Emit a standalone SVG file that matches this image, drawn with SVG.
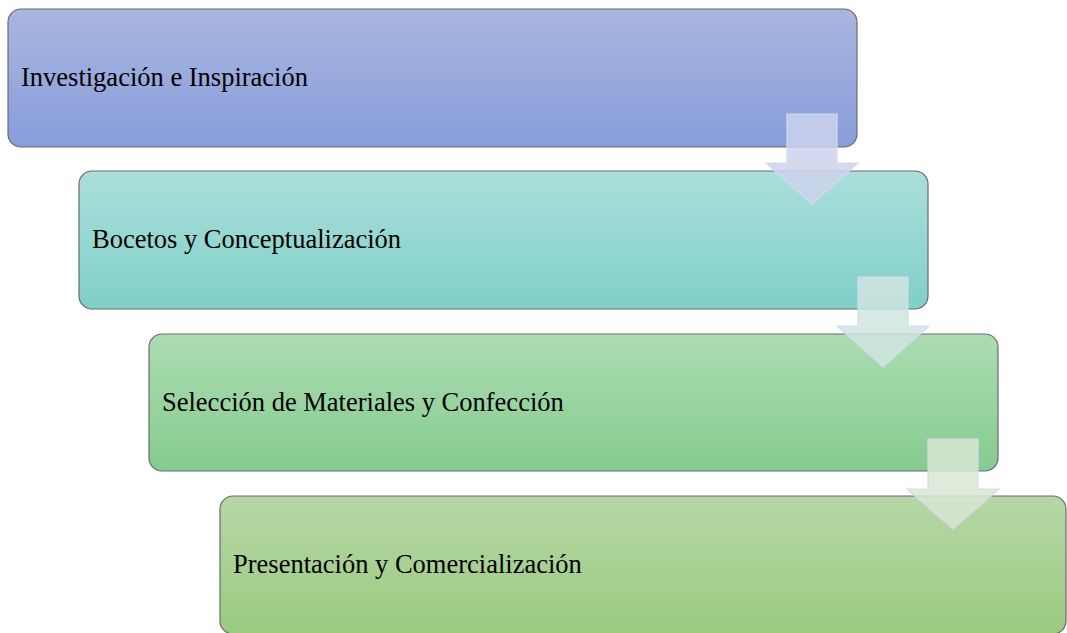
<svg xmlns="http://www.w3.org/2000/svg" width="1067" height="633" viewBox="0 0 1067 633">
<style>
.box{stroke:#6b6b6b;stroke-width:1.2}
.lbl{font-family:"Liberation Serif","Times New Roman",serif;font-size:26.5px;fill:#000}
.arr{fill-opacity:0.85;stroke:#d6d9f2;stroke-width:1.2}
</style>
<defs>
<linearGradient id="g1" x1="0" y1="0" x2="0" y2="1"><stop offset="0" stop-color="#aab6e1"/><stop offset="1" stop-color="#879dd9"/></linearGradient>
<linearGradient id="g2" x1="0" y1="0" x2="0" y2="1"><stop offset="0" stop-color="#abdfda"/><stop offset="1" stop-color="#80cfc9"/></linearGradient>
<linearGradient id="g3" x1="0" y1="0" x2="0" y2="1"><stop offset="0" stop-color="#acdcb1"/><stop offset="1" stop-color="#85cb90"/></linearGradient>
<linearGradient id="g4" x1="0" y1="0" x2="0" y2="1"><stop offset="0" stop-color="#b6d7a6"/><stop offset="1" stop-color="#9bca80"/></linearGradient>
</defs>
<g id="node1"><rect class="box" x="8" y="9" width="849" height="138" rx="13" fill="url(#g1)"/><text class="lbl" x="21" y="86">Investigación e Inspiración</text></g>
<g id="node2"><rect class="box" x="79" y="171" width="849" height="138" rx="13" fill="url(#g2)"/><text class="lbl" x="92" y="248">Bocetos y Conceptualización</text></g>
<g id="node3"><rect class="box" x="149" y="334" width="849" height="137" rx="13" fill="url(#g3)"/><text class="lbl" x="162" y="411">Selección de Materiales y Confección</text></g>
<g id="node4"><rect class="box" x="220" y="496" width="846" height="138" rx="13" fill="url(#g4)"/><text class="lbl" x="233" y="573">Presentación y Comercialización</text></g>
<g id="connectors">
<path class="arr" fill="#ccd2ec" d="M787 114 H837 V163 H858 L812 204 L766 163 H787 Z"/>
<path class="arr" fill="#d0e5e1" d="M858 277 H908 V326 H929 L883 367 L837 326 H858 Z"/>
<path class="arr" fill="#d9e6d4" d="M928 439 H978 V489 H999 L953 529 L907 489 H928 Z"/>
</g>
</svg>
